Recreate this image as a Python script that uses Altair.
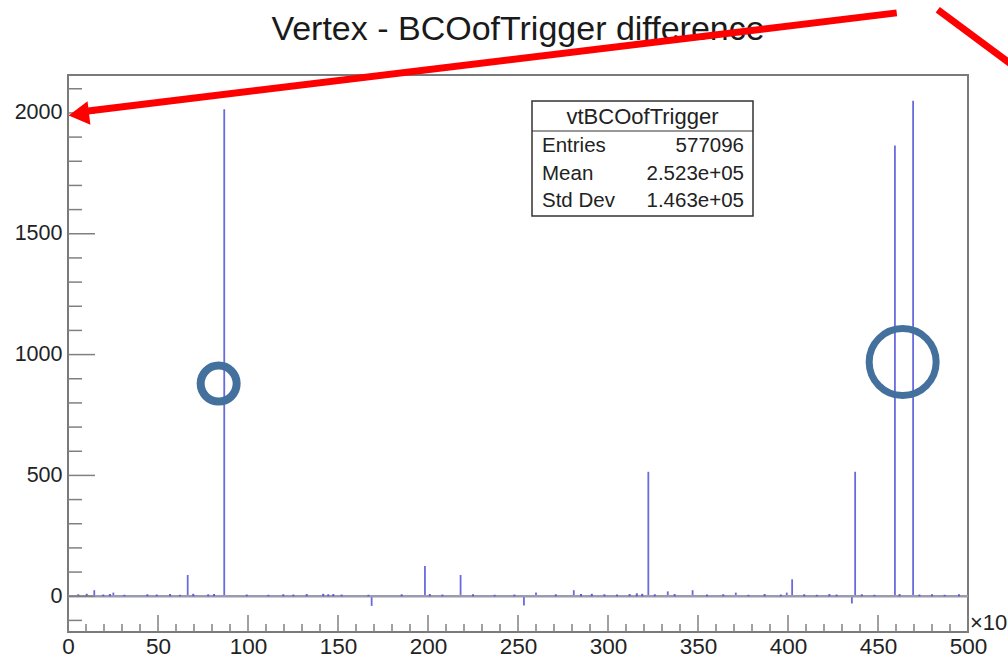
import altair as alt
import pandas as pd

# ---------------- data ----------------
title_text = "Vertex - BCOofTrigger difference"

# histogram spikes (x in units of 10^3, counts)
spike_x = [14.6, 25.2, 66.5, 86.8, 168.7, 198.3, 218.1, 253.3, 260.0, 281.0,
           322.4, 333.2, 347.0, 371.0, 399.3, 402.3, 435.5, 437.3, 459.4, 469.5]
spike_y = [25, 15, 88, 2015, -40, 125, 88, -38, 15, 25,
           515, 20, 25, 15, 15, 70, -30, 515, 1865, 2050]

# small populated bins along the baseline
dot_x = [5.7, 10.4, 19.6, 23.3, 31.3, 44.1, 49.3, 56.7, 62.2, 69.6, 77.9, 81.1,
         99.3, 111.3, 119.6, 125.2, 132.6, 141.8, 144.6, 147.4, 152.0, 166.9,
         185.4, 201.0, 208.0, 225.0, 237.0, 248.0, 271.0, 285.0, 291.0, 298.0,
         305.0, 312.0, 316.0, 319.0, 326.0, 337.0, 355.0, 364.0, 378.0, 387.0,
         396.0, 409.0, 416.0, 423.0, 427.0, 441.0, 448.0, 462.0, 473.0, 480.0,
         487.0, 495.0]
dot_y = [8, 10, 7, 9, 6, 8, 7, 9, 6, 10, 8, 9,
         7, 6, 8, 7, 9, 10, 8, 9, 7, 6,
         8, 9, 7, 8, 6, 7, 8, 9, 10, 8,
         7, 9, 12, 10, 8, 9, 7, 8, 6, 9,
         7, 8, 6, 9, 7, 8, 6, 9, 7, 8,
         6, 8]

x_major = [0, 50, 100, 150, 200, 250, 300, 350, 400, 450, 500]
x_minor = [v for v in range(10, 500, 10) if v % 50 != 0]
y_major = [0, 500, 1000, 1500, 2000]
y_minor = [v for v in range(-100, 2200, 100) if v % 500 != 0]

stats_title = "vtBCOofTrigger"
stats_names = ["Entries", "Mean", "Std Dev"]
stats_values = ["577096", "2.523e+05", "1.463e+05"]

# annotations (data coordinates)
arrow1_x = [460.4, 6.5]
arrow1_y = [2414, 2004]
arrow2_x = [483.2, 534.3]
arrow2_y = [2427, 2145]
head_x = [6.0]
head_y = [1995]
circle1_x = [83.7]
circle1_y = [880]
circle2_x = [463.7]
circle2_y = [969]

# ---------------- chart ----------------
W, H = 900, 557
FONT = "Liberation Sans"
XS = alt.Scale(domain=[0, 500], nice=False, zero=False)
YS = alt.Scale(domain=[-148, 2157], nice=False, zero=False)
AX = alt.Axis(values=x_major, ticks=False, domain=False, grid=False,
              labelFontSize=22.5, labelFont=FONT, labelColor="#222",
              labelPadding=3, title=None, labelFlush=False,
              labelOverlap=False, format="d")
AY = alt.Axis(values=y_major, ticks=False, domain=False, grid=False,
              labelFontSize=21.5, labelFont=FONT, labelColor="#222",
              labelPadding=6, title=None, labelOverlap=False, format="d")


def X(f):
    return alt.X(f, scale=XS, axis=AX)


def Y(f):
    return alt.Y(f, scale=YS, axis=AY)


spikes = pd.DataFrame({"x": spike_x, "y": spike_y, "z": [0] * len(spike_x)})
dots = pd.DataFrame({"x": dot_x, "y": dot_y, "z": [0] * len(dot_x)})
one = pd.DataFrame({"k": [0]})

spike_layer = alt.Chart(spikes).mark_rule(color="#6a6adf", strokeWidth=1.8).encode(
    x=X("x:Q"), y=Y("y:Q"), y2="z:Q")

base_line = alt.Chart(pd.DataFrame({"z": [0]})).mark_rule(
    color="#9a9ab0", strokeWidth=2.5).encode(
    x=alt.value(0), x2=alt.value(W), y=Y("z:Q"))

dot_layer = alt.Chart(dots).mark_rule(color="#5c5cd0", strokeWidth=2).encode(
    x=X("x:Q"), y=Y("y:Q"), y2="z:Q")

TICK = "#808080"
xmaj = alt.Chart(pd.DataFrame({"v": x_major})).mark_rule(color=TICK, strokeWidth=1.5).encode(
    x=X("v:Q"), y=alt.value(H), y2=alt.value(H - 17))
xmin = alt.Chart(pd.DataFrame({"v": x_minor})).mark_rule(color=TICK, strokeWidth=1.5).encode(
    x=X("v:Q"), y=alt.value(H), y2=alt.value(H - 8))
ymaj = alt.Chart(pd.DataFrame({"v": y_major})).mark_rule(color=TICK, strokeWidth=1.5).encode(
    y=Y("v:Q"), x=alt.value(0), x2=alt.value(27))
ymin = alt.Chart(pd.DataFrame({"v": y_minor})).mark_rule(color=TICK, strokeWidth=1.5).encode(
    y=Y("v:Q"), x=alt.value(0), x2=alt.value(14))

title_layer = alt.Chart(pd.DataFrame({"t": [title_text]})).mark_text(
    font=FONT, fontSize=34, color="#1a1a1a",
    align="center", baseline="alphabetic").encode(
    text="t:N", x=alt.value(W / 2), y=alt.value(-35))

x_exp = alt.Chart(pd.DataFrame({"t": ["×10"]})).mark_text(
    font=FONT, fontSize=22, color="#222",
    align="left", baseline="middle").encode(
    text="t:N", x=alt.value(902), y=alt.value(548))

# stats box
box = alt.Chart(one).mark_rect(fill="white", stroke="#333", strokeWidth=1.5).encode(
    x=alt.value(464), x2=alt.value(685), y=alt.value(26), y2=alt.value(141))
divider = alt.Chart(one).mark_rule(color="#333", strokeWidth=1.2).encode(
    x=alt.value(464), x2=alt.value(685), y=alt.value(56))
stats_layers = [box, divider,
                alt.Chart(pd.DataFrame({"t": [stats_title]})).mark_text(
                    font=FONT, fontSize=22, color="#222", align="center",
                    baseline="middle").encode(
                    text="t:N", x=alt.value(574.5), y=alt.value(42))]
row_y = [71, 98.5, 126]
for name, val, ry in zip(stats_names, stats_values, row_y):
    stats_layers.append(alt.Chart(pd.DataFrame({"t": [name]})).mark_text(
        font=FONT, fontSize=20.5, color="#222", align="left",
        baseline="middle").encode(text="t:N", x=alt.value(474), y=alt.value(ry)))
    stats_layers.append(alt.Chart(pd.DataFrame({"t": [val]})).mark_text(
        font=FONT, fontSize=20.5, color="#222", align="right",
        baseline="middle").encode(text="t:N", x=alt.value(676), y=alt.value(ry)))

# annotations
arrows = pd.DataFrame({
    "x": arrow1_x + arrow2_x,
    "y": arrow1_y + arrow2_y,
    "seg": ["a", "a", "b", "b"],
    "o": [0, 1, 0, 1],
})
arrow_lines = alt.Chart(arrows).mark_line(color="#ff0000", strokeWidth=7,
                                          strokeCap="butt").encode(
    x=X("x:Q"), y=Y("y:Q"), detail="seg:N", order="o:Q")
arrow_head = alt.Chart(pd.DataFrame({"x": head_x, "y": head_y})).mark_point(
    shape="triangle-left", filled=True, size=560, angle=353, color="#ff0000",
    opacity=1).encode(x=X("x:Q"), y=Y("y:Q"))
circ1 = alt.Chart(pd.DataFrame({"x": circle1_x, "y": circle1_y})).mark_point(
    shape="circle", filled=False, size=1296, strokeWidth=8, color="#44709d",
    opacity=1).encode(x=X("x:Q"), y=Y("y:Q"))
circ2 = alt.Chart(pd.DataFrame({"x": circle2_x, "y": circle2_y})).mark_point(
    shape="circle", filled=False, size=4489, strokeWidth=7, color="#44709d",
    opacity=1).encode(x=X("x:Q"), y=Y("y:Q"))

chart = alt.layer(
    spike_layer, base_line, dot_layer, xmaj, xmin, ymaj, ymin,
    *stats_layers, title_layer, x_exp, circ1, circ2, arrow_lines, arrow_head,
).properties(
    width=W, height=H,
    autosize=alt.AutoSizeParams(type="none"),
    padding={"left": 68, "top": 75, "right": 40, "bottom": 28},
    background="white",
).configure_view(stroke="#7a7a7a", strokeWidth=2)

chart.save("out.html", embed_options={"renderer": "svg", "actions": False})
